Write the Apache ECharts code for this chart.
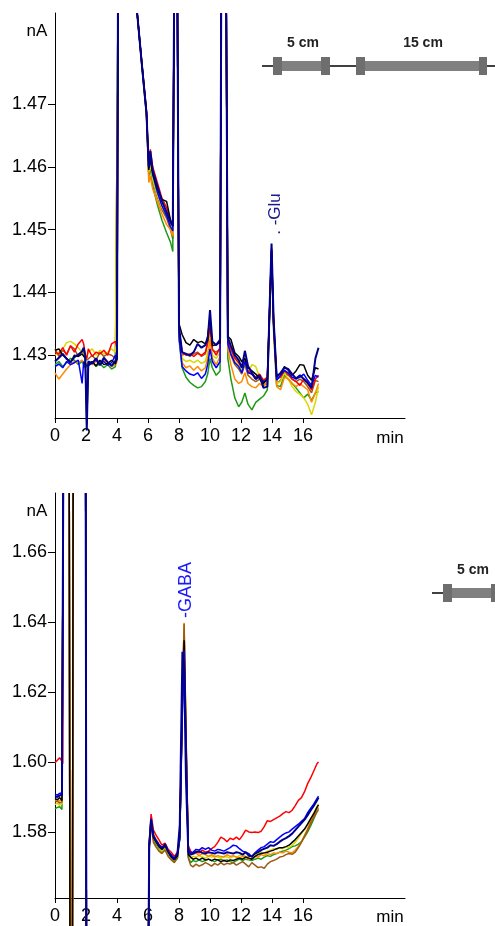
<!DOCTYPE html>
<html><head><meta charset="utf-8">
<script src="https://cdn.jsdelivr.net/npm/echarts@6/dist/echarts.min.js"></script>
<style>html,body{margin:0;padding:0;background:#fff}#c{width:495px;height:926px}</style>
</head><body><div id="c"></div><script>
// off-scale markers
const HI = Infinity, LO = -Infinity;

// ---------- top panel (Glu) ----------
const topTimes = [0,0.25,0.5,0.75,1.0,1.25,1.5,1.75,1.85,1.95,2.05,2.15,2.4,2.65,2.9,3.15,3.4,3.65,3.9,4.0,
 4.06,4.6,5.3,
 5.6,5.9,6.05,6.15,6.3,6.6,6.9,7.2,7.45,7.6,
 7.68,7.8,7.9,
 8.0,8.2,8.45,8.7,8.95,9.2,9.45,9.7,9.85,10.0,10.15,10.4,10.65,
 10.72,10.9,11.05,
 11.15,11.35,11.6,11.85,12.05,12.25,12.45,12.7,12.95,13.2,13.45,13.7,
 13.85,13.97,
 14.1,14.3,14.55,14.8,15.05,15.3,15.55,15.8,16.05,16.3,16.55,16.8,17.0];

const topNavy = [1.4290,1.4296,1.4302,1.4294,1.4289,1.4297,1.4301,1.4306,1.4312,1.4300,1.4180,1.4290,1.4287,1.4295,1.4284,1.4296,1.4289,1.4283,1.4291,1.4298,
 HI,null,HI,
 1.4764,1.4686,1.4600,1.4625,1.4595,1.4570,1.4545,1.4528,1.4512,1.4506,
 HI,null,HI,
 1.4345,1.4305,1.4302,1.4300,1.4305,1.4318,1.4312,1.4316,1.4325,1.4372,1.4322,1.4316,1.4325,
 HI,null,HI,
 1.4328,1.4315,1.4300,1.4292,1.4280,1.4307,1.4283,1.4272,1.4262,1.4268,1.4248,1.4250,
 1.4380,1.4478,
 1.4360,1.4265,1.4272,1.4280,1.4278,1.4270,1.4263,1.4268,1.4262,1.4256,1.4248,1.4295,1.4312];

const topBlack = [1.4308,1.4310,1.4300,1.4295,1.4288,1.4300,1.4298,1.4302,1.4300,1.4295,1.4190,1.4285,1.4290,1.4283,1.4292,1.4285,1.4287,1.4292,1.4286,1.4295,
 HI,null,HI,
 1.4766,1.4688,1.4595,1.4615,1.4590,1.4565,1.4548,1.4545,1.4515,1.4505,
 HI,null,HI,
 1.4350,1.4333,1.4320,1.4316,1.4325,1.4320,1.4322,1.4318,1.4330,1.4360,1.4315,1.4317,1.4320,
 HI,null,HI,
 1.4330,1.4325,1.4304,1.4298,1.4290,1.4295,1.4280,1.4275,1.4270,1.4263,1.4255,1.4262,
 1.4378,1.4470,
 1.4355,1.4268,1.4270,1.4282,1.4276,1.4268,1.4275,1.4285,1.4284,1.4268,1.4260,1.4280,1.4278];

const topRed = [1.4305,1.4302,1.4312,1.4300,1.4315,1.4305,1.4318,1.4325,1.4318,1.4300,1.4295,1.4310,1.4298,1.4305,1.4302,1.4308,1.4300,1.4318,1.4322,1.4310,
 HI,null,HI,
 1.4766,1.4690,1.4605,1.4628,1.4600,1.4575,1.4550,1.4535,1.4515,1.4512,
 HI,null,HI,
 1.4340,1.4305,1.4300,1.4302,1.4298,1.4303,1.4300,1.4305,1.4320,1.4345,1.4310,1.4300,1.4312,
 HI,null,HI,
 1.4322,1.4310,1.4295,1.4288,1.4282,1.4293,1.4275,1.4270,1.4265,1.4270,1.4260,1.4265,
 1.4375,1.4465,
 1.4350,1.4262,1.4265,1.4275,1.4270,1.4262,1.4258,1.4252,1.4262,1.4255,1.4245,1.4262,1.4268];

const topYellow = [1.4300,1.4305,1.4310,1.4320,1.4322,1.4318,1.4312,1.4305,1.4300,1.4298,1.4295,1.4305,1.4310,1.4300,1.4308,1.4302,1.4305,1.4310,1.4305,1.4302,
 HI,null,HI,
 1.4763,1.4685,1.4590,1.4605,1.4580,1.4555,1.4535,1.4525,1.4508,1.4492,
 HI,null,HI,
 1.4335,1.4295,1.4290,1.4292,1.4288,1.4292,1.4287,1.4290,1.4305,1.4335,1.4300,1.4295,1.4305,
 HI,null,HI,
 1.4320,1.4305,1.4290,1.4285,1.4275,1.4290,1.4272,1.4285,1.4282,1.4265,1.4262,1.4260,
 1.4370,1.4462,
 1.4345,1.4255,1.4258,1.4272,1.4262,1.4250,1.4242,1.4238,1.4232,1.4222,1.4205,1.4225,1.4250];

const topBrown = [1.4310,1.4298,1.4308,1.4302,1.4315,1.4310,1.4298,1.4308,1.4303,1.4298,1.4292,1.4295,1.4300,1.4292,1.4305,1.4298,1.4302,1.4300,1.4295,1.4298,
 HI,null,HI,
 1.4762,1.4684,1.4585,1.4600,1.4578,1.4552,1.4532,1.4518,1.4500,1.4485,
 HI,null,HI,
 1.4340,1.4300,1.4303,1.4298,1.4302,1.4305,1.4298,1.4302,1.4318,1.4342,1.4308,1.4305,1.4310,
 HI,null,HI,
 1.4318,1.4300,1.4285,1.4278,1.4270,1.4285,1.4268,1.4262,1.4258,1.4262,1.4252,1.4255,
 1.4372,1.4465,
 1.4348,1.4255,1.4260,1.4272,1.4268,1.4262,1.4258,1.4262,1.4258,1.4250,1.4240,1.4260,1.4258];

const topGreen = [1.4285,1.4290,1.4282,1.4288,1.4295,1.4292,1.4285,1.4290,1.4288,1.4280,1.4282,1.4285,1.4290,1.4282,1.4287,1.4280,1.4285,1.4278,1.4282,1.4285,
 HI,null,HI,
 1.4762,1.4684,1.4590,1.4600,1.4570,1.4540,1.4515,1.4495,1.4480,1.4465,
 HI,null,HI,
 1.4325,1.4280,1.4265,1.4257,1.4252,1.4248,1.4250,1.4258,1.4270,1.4295,1.4280,1.4268,1.4275,
 HI,null,HI,
 1.4295,1.4262,1.4232,1.4218,1.4225,1.4240,1.4222,1.4213,1.4225,1.4230,1.4235,1.4245,
 1.4368,1.4455,
 1.4340,1.4252,1.4250,1.4268,1.4262,1.4255,1.4248,1.4240,1.4232,1.4238,1.4228,1.4240,1.4242];

const topBlue = [1.4282,1.4286,1.4280,1.4290,1.4285,1.4288,1.4292,1.4255,1.4290,1.4285,1.4288,1.4283,1.4288,1.4292,1.4286,1.4290,1.4284,1.4288,1.4300,1.4292,
 HI,null,HI,
 1.4765,1.4687,1.4598,1.4612,1.4588,1.4560,1.4538,1.4522,1.4505,1.4498,
 HI,null,HI,
 1.4330,1.4282,1.4275,1.4270,1.4268,1.4272,1.4263,1.4270,1.4285,1.4310,1.4290,1.4280,1.4290,
 HI,null,HI,
 1.4318,1.4302,1.4288,1.4282,1.4272,1.4290,1.4272,1.4270,1.4262,1.4265,1.4258,1.4262,
 1.4375,1.4468,
 1.4352,1.4260,1.4268,1.4276,1.4272,1.4265,1.4262,1.4265,1.4270,1.4260,1.4252,1.4268,1.4265];

const topOrange = [1.4272,1.4262,1.4270,1.4278,1.4285,1.4290,1.4288,1.4292,1.4290,1.4285,1.4283,1.4288,1.4285,1.4290,1.4286,1.4292,1.4288,1.4282,1.4285,1.4290,
 HI,null,HI,
 1.4764,1.4686,1.4575,1.4585,1.4565,1.4545,1.4525,1.4508,1.4500,1.4490,
 HI,null,HI,
 1.4330,1.4288,1.4280,1.4283,1.4276,1.4282,1.4275,1.4280,1.4295,1.4325,1.4295,1.4285,1.4298,
 HI,null,HI,
 1.4310,1.4285,1.4262,1.4255,1.4258,1.4272,1.4255,1.4250,1.4248,1.4255,1.4250,1.4258,
 1.4372,1.4460,
 1.4345,1.4250,1.4245,1.4265,1.4262,1.4255,1.4250,1.4255,1.4250,1.4245,1.4225,1.4240,1.4255];

// ---------- bottom panel (GABA) ----------
const botTimes = [0,0.15,0.3,0.45,0.5,
 0.53,0.7,0.92,0.97,1.12,1.17,1.5,1.98,2.03,6.0,
 6.08,6.2,6.35,6.5,6.7,6.9,7.1,7.3,7.5,7.7,7.9,
 8.05,8.22,8.33,8.45,8.6,
 8.75,8.9,9.1,9.3,9.5,9.7,9.9,10.1,10.3,10.5,
 10.7,10.9,11.1,11.3,11.5,11.7,11.9,12.1,12.3,12.5,
 12.7,12.9,13.1,13.3,13.5,13.7,13.9,14.1,14.3,14.5,
 14.7,14.9,15.1,15.3,15.5,15.7,15.9,16.1,16.3,16.5,
 16.7,16.9,17.0];

const botRed = [1.5998,1.6005,1.6012,1.6002,1.5995,
 HI,null,HI,LO,LO,HI,null,HI,LO,LO,
 1.5770,1.5851,1.5805,1.5792,1.5778,1.5762,1.5768,1.5750,1.5742,1.5730,1.5742,
 1.5790,1.6170,1.6365,1.6070,1.5760,
 1.5745,1.5738,1.5745,1.5740,1.5748,1.5742,1.5745,1.5752,1.5758,1.5770,
 1.5785,1.5780,1.5772,1.5782,1.5778,1.5785,1.5778,1.5790,1.5805,1.5800,
 1.5798,1.5800,1.5798,1.5802,1.5815,1.5832,1.5830,1.5835,1.5840,1.5845,
 1.5852,1.5858,1.5855,1.5862,1.5875,1.5890,1.5898,1.5915,1.5938,1.5955,
 1.5975,1.5995,1.6000];

const botBlue = [1.5908,1.5905,1.5910,1.5912,1.5915,
 HI,null,null,null,null,null,null,HI,LO,LO,
 1.5765,1.5838,1.5790,1.5778,1.5765,1.5755,1.5762,1.5745,1.5735,1.5725,1.5738,
 1.5780,1.6150,1.6320,1.6050,1.5752,
 1.5740,1.5742,1.5750,1.5748,1.5755,1.5750,1.5755,1.5748,1.5745,1.5750,
 1.5748,1.5745,1.5750,1.5755,1.5762,1.5760,1.5752,1.5745,1.5742,1.5738,
 1.5728,1.5740,1.5748,1.5755,1.5758,1.5765,1.5772,1.5770,1.5778,1.5785,
 1.5792,1.5797,1.5800,1.5808,1.5815,1.5822,1.5830,1.5838,1.5855,1.5868,
 1.5880,1.5895,1.5902];

const botNavy = [1.5902,1.5900,1.5904,1.5906,1.5908,
 HI,null,null,null,null,null,null,HI,LO,LO,
 1.5762,1.5835,1.5788,1.5775,1.5762,1.5752,1.5765,1.5745,1.5730,1.5722,1.5738,
 1.5820,1.6315,1.6270,1.5950,1.5742,
 1.5735,1.5738,1.5742,1.5745,1.5740,1.5738,1.5742,1.5740,1.5738,1.5742,
 1.5740,1.5738,1.5742,1.5740,1.5738,1.5742,1.5740,1.5735,1.5742,1.5732,
 1.5730,1.5738,1.5742,1.5748,1.5752,1.5755,1.5762,1.5760,1.5765,1.5772,
 1.5778,1.5782,1.5788,1.5795,1.5805,1.5815,1.5825,1.5835,1.5848,1.5862,
 1.5875,1.5890,1.5898];

const botBlack = [1.5895,1.5892,1.5898,1.5890,1.5893,
 HI,null,HI,LO,LO,HI,null,HI,LO,LO,
 1.5760,1.5832,1.5785,1.5772,1.5758,1.5750,1.5760,1.5742,1.5728,1.5720,1.5732,
 1.5785,1.6160,1.6348,1.6050,1.5735,
 1.5728,1.5722,1.5725,1.5720,1.5725,1.5720,1.5722,1.5718,1.5722,1.5720,
 1.5715,1.5718,1.5715,1.5720,1.5718,1.5722,1.5725,1.5722,1.5728,1.5725,
 1.5722,1.5730,1.5735,1.5738,1.5740,1.5742,1.5745,1.5748,1.5752,1.5755,
 1.5755,1.5758,1.5762,1.5770,1.5778,1.5788,1.5798,1.5808,1.5822,1.5838,
 1.5852,1.5870,1.5877];

const botOrange = [1.5890,1.5893,1.5888,1.5894,1.5890,
 HI,null,HI,LO,LO,HI,null,HI,LO,LO,
 1.5762,1.5835,1.5792,1.5780,1.5765,1.5752,1.5762,1.5745,1.5732,1.5722,1.5735,
 1.5788,1.6200,1.6398,1.6090,1.5745,
 1.5738,1.5735,1.5740,1.5732,1.5738,1.5735,1.5730,1.5735,1.5728,1.5732,
 1.5730,1.5728,1.5735,1.5730,1.5732,1.5728,1.5725,1.5730,1.5728,1.5722,
 1.5725,1.5730,1.5728,1.5735,1.5732,1.5738,1.5735,1.5740,1.5738,1.5742,
 1.5740,1.5745,1.5742,1.5740,1.5748,1.5758,1.5772,1.5790,1.5810,1.5830,
 1.5845,1.5862,1.5870];

const botYellow = [1.5878,1.5882,1.5876,1.5880,1.5875,
 HI,null,HI,LO,LO,HI,null,HI,LO,LO,
 1.5758,1.5828,1.5782,1.5770,1.5755,1.5745,1.5755,1.5738,1.5725,1.5718,1.5730,
 1.5782,1.6190,1.6380,1.6080,1.5738,
 1.5725,1.5730,1.5728,1.5732,1.5728,1.5725,1.5730,1.5728,1.5732,1.5728,
 1.5725,1.5730,1.5728,1.5725,1.5730,1.5728,1.5732,1.5735,1.5730,1.5728,
 1.5732,1.5735,1.5738,1.5742,1.5738,1.5745,1.5748,1.5752,1.5750,1.5755,
 1.5752,1.5758,1.5755,1.5762,1.5770,1.5782,1.5795,1.5808,1.5822,1.5838,
 1.5855,1.5872,1.5880];

const botGreen = [1.5866,1.5870,1.5872,1.5864,1.5868,
 HI,null,HI,LO,LO,HI,null,HI,LO,LO,
 1.5755,1.5825,1.5778,1.5765,1.5752,1.5742,1.5752,1.5735,1.5722,1.5715,1.5725,
 1.5780,1.6180,1.6370,1.6070,1.5728,
 1.5712,1.5718,1.5715,1.5720,1.5715,1.5718,1.5722,1.5718,1.5715,1.5720,
 1.5722,1.5718,1.5720,1.5715,1.5712,1.5718,1.5722,1.5718,1.5722,1.5720,
 1.5718,1.5722,1.5725,1.5722,1.5728,1.5732,1.5730,1.5735,1.5738,1.5742,
 1.5745,1.5748,1.5752,1.5758,1.5760,1.5765,1.5772,1.5785,1.5800,1.5818,
 1.5838,1.5858,1.5868];

const botBrown = [1.5885,1.5888,1.5882,1.5886,1.5884,
 HI,null,HI,LO,LO,HI,null,HI,LO,LO,
 1.5752,1.5820,1.5770,1.5758,1.5745,1.5738,1.5748,1.5730,1.5720,1.5712,1.5726,
 1.5785,1.6200,1.6395,1.6090,1.5725,
 1.5705,1.5700,1.5708,1.5702,1.5706,1.5712,1.5708,1.5702,1.5710,1.5705,
 1.5712,1.5706,1.5710,1.5708,1.5712,1.5705,1.5710,1.5715,1.5708,1.5700,
 1.5712,1.5705,1.5698,1.5700,1.5696,1.5708,1.5715,1.5718,1.5722,1.5728,
 1.5730,1.5735,1.5738,1.5736,1.5742,1.5755,1.5770,1.5788,1.5805,1.5825,
 1.5842,1.5858,1.5862];

// ---------- axes ----------
const xTicks = [0,2,4,6,8,10,12,14,16];
const topYTicks = [1.43,1.44,1.45,1.46,1.47];
const botYTicks = [1.58,1.60,1.62,1.64,1.66];
const topYRange = [1.42, 1.4845];
const botYRange = [1.5611, 1.6769];
const xRange = [0, 22.58];

const COLORS = {brown:'#9c5a14', green:'#1e9a14', yellow:'#d8d800', orange:'#ff8a00',
  red:'#ff0000', blue:'#0000ff', black:'#000000', navy:'#00008c'};

const topSet = [['brown',topBrown],['green',topGreen],['yellow',topYellow],['orange',topOrange],
  ['red',topRed],['blue',topBlue],['black',topBlack],['navy',topNavy]];
const botSet = [['green',botGreen],['yellow',botYellow],['red',botRed],['orange',botOrange],
  ['brown',botBrown],['black',botBlack],['blue',botBlue],['navy',botNavy]];

function mk(times, vals, idx, range, name) {
  if (times.length !== vals.length) console.error('length mismatch', name, times.length, vals.length);
  const data = times.map((t, i) => {
    let v = vals[i];
    if (v === null || v === undefined) return [t, '-'];
    if (v > range[1]) v = range[1];
    if (v < range[0] - 0.03) v = range[0] - 0.03;
    return [t, v];
  });
  return {
    type: 'line', name: name, xAxisIndex: idx, yAxisIndex: idx, data: data,
    showSymbol: false, symbol: 'none', clip: false, connectNulls: false,
    lineStyle: {color: COLORS[name], width: name === 'navy' ? 2 : 1.5},
    itemStyle: {color: COLORS[name]}, emphasis: {disabled: true}, animation: false, silent: true
  };
}

const FONT = 'Arial, "Liberation Sans", sans-serif';
function xAxis(idx) {
  return {
    type: 'value', gridIndex: idx, min: xRange[0], max: xRange[1],
    axisLine: {show: true, onZero: false, lineStyle: {color: '#000', width: 1}},
    axisTick: {show: true, length: 5, customValues: xTicks, lineStyle: {color: '#000'}},
    axisLabel: {show: true, customValues: xTicks, color: '#000', fontSize: 18, fontFamily: FONT, margin: 9},
    splitLine: {show: false}
  };
}
function yAxis(idx, range, ticks) {
  return {
    type: 'value', gridIndex: idx, min: range[0], max: range[1],
    axisLine: {show: true, onZero: false, lineStyle: {color: '#000', width: 1}},
    axisTick: {show: true, length: 7, customValues: ticks, lineStyle: {color: '#000'}},
    axisLabel: {show: true, customValues: ticks, color: '#000', fontSize: 18, fontFamily: FONT, margin: 8,
      formatter: v => Number(v).toFixed(2)},
    splitLine: {show: false}
  };
}

function column(ox, oy) {
  const capC = '#6e6e6e', barC = '#808080';
  const r = (x, y, w, h, c) => ({type: 'rect', shape: {x: ox + x, y: oy + y, width: w, height: h}, style: {fill: c}, silent: true});
  return [
    {type: 'line', shape: {x1: ox, y1: oy, x2: ox + 240, y2: oy}, style: {stroke: '#000', lineWidth: 1.5}, silent: true},
    r(20, -5, 39, 10, barC), r(11, -9, 9, 18, capC), r(59, -9, 9, 18, capC),
    r(103, -5, 114, 10, barC), r(94, -9, 9, 18, capC), r(217, -9, 8, 18, capC),
    {type: 'text', x: ox + 41, y: oy - 23, style: {text: '5 cm', fill: '#222', font: 'bold 14px ' + FONT, align: 'center', verticalAlign: 'middle'}, silent: true},
    {type: 'text', x: ox + 161, y: oy - 23, style: {text: '15 cm', fill: '#222', font: 'bold 14px ' + FONT, align: 'center', verticalAlign: 'middle'}, silent: true}
  ];
}

const txt = (x, y, s, font, color, rot) => ({type: 'text', x: x, y: y, rotation: rot || 0,
  style: {text: s, fill: color || '#000', font: font, align: 'center', verticalAlign: 'middle'}, silent: true});

const option = {
  animation: false,
  backgroundColor: '#fff',
  grid: [
    {left: 55, top: 13, width: 350, height: 405},
    {left: 55, top: 493, width: 350, height: 405}
  ],
  xAxis: [xAxis(0), xAxis(1)],
  yAxis: [yAxis(0, topYRange, topYTicks), yAxis(1, botYRange, botYTicks)],
  series: [
    ...topSet.map(([n, v]) => mk(topTimes, v, 0, topYRange, n)),
    ...botSet.map(([n, v]) => mk(botTimes, v, 1, botYRange, n))
  ],
  graphic: [
    txt(37, 31, 'nA', '17px ' + FONT),
    txt(37, 511, 'nA', '17px ' + FONT),
    txt(390, 438, 'min', '17px ' + FONT),
    txt(390, 917, 'min', '17px ' + FONT),
    txt(275, 214, '. -Glu', '17px ' + FONT, '#1a1a8c', Math.PI / 2),
    txt(186, 590, '-GABA', '18px ' + FONT, '#1a1aff', Math.PI / 2),
    ...column(262, 66),
    ...column(432, 593)
  ]
};

const chart = echarts.init(document.getElementById('c'), null, {renderer: 'canvas'});
chart.setOption(option);
</script></body></html>
